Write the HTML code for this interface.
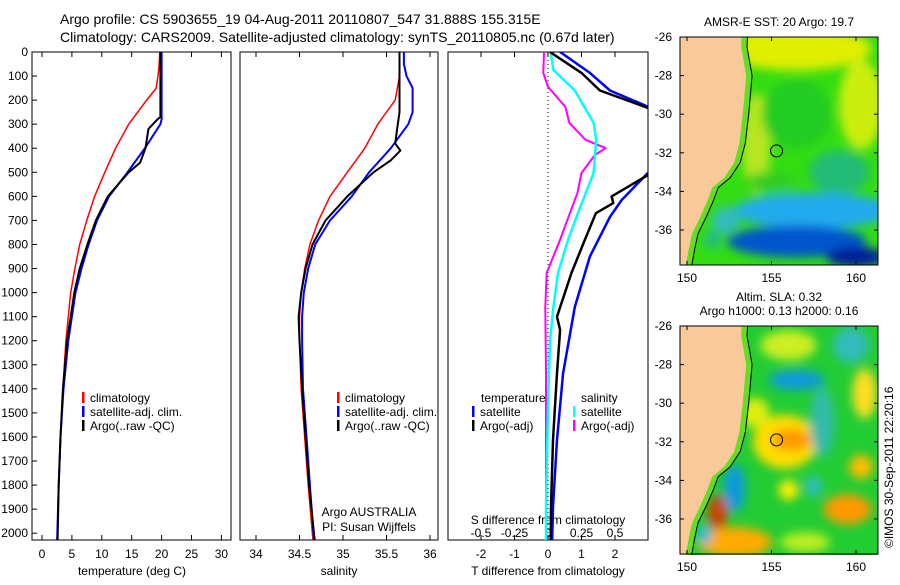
<!DOCTYPE html>
<html><head><meta charset="utf-8"><style>
body{margin:0;background:#fff;width:900px;height:580px;overflow:hidden;font-family:"Liberation Sans",sans-serif}
svg text{font-family:"Liberation Sans",sans-serif;font-size:12px;fill:#000}
</style></head><body>
<svg id="c" width="900" height="580" xmlns="http://www.w3.org/2000/svg">
<text x="60" y="24" style="font-size:14px">Argo profile: CS 5903655_19 04-Aug-2011 20110807_547 31.888S 155.315E</text>
<text x="60" y="42" style="font-size:14px">Climatology: CARS2009. Satellite-adjusted climatology: synTS_20110805.nc (0.67d later)</text>
<defs>
<filter id="bl" x="-20%" y="-20%" width="140%" height="140%"><feGaussianBlur stdDeviation="5"/></filter>
<clipPath id="cp1"><rect x="32" y="52" width="199" height="488"/></clipPath>
<clipPath id="cp2"><rect x="240" y="52" width="198" height="488"/></clipPath>
<clipPath id="cp3"><rect x="448" y="52" width="200" height="488"/></clipPath>
<clipPath id="cm1"><rect x="680" y="37" width="198" height="228"/></clipPath>
<clipPath id="cm2"><rect x="680" y="326" width="198" height="229"/></clipPath>
</defs>
<g id="maps"></g>
<g id="plots"></g>
<text transform="translate(893,548) rotate(-90)">©IMOS 30-Sep-2011 22:20:16</text>
</svg>
<script>
// ---- data ----
const depthT = [0,50,100,150,200,300,400,500,600,700,800,900,1000,1200,1400,1600,1800,2050];
const tempClim = [19.7,19.6,19.4,19.1,17.5,14.5,12.3,10.5,8.8,7.5,6.3,5.5,4.8,4.0,3.5,3.1,2.8,2.5];
const depthTS = [0,280,300,400,500,600,700,800,900,1000,1200,1400,1600,1800,2050];
const tempSat = [20,20,19.8,17.2,14.3,11.2,9.2,7.8,6.6,5.6,4.4,3.6,3.1,2.8,2.5];
const depthTA = [0,270,280,320,400,460,500,600,700,800,900,1000,1200,1400,1600,1800,2050];
const tempArgo = [19.8,19.8,19.3,17.8,17.3,16.4,14.5,11.0,9.0,7.6,6.3,5.4,4.2,3.5,3.1,2.8,2.6];
const depthS = [0,100,200,300,400,500,600,700,800,900,1000,1100,1200,1400,1600,1800,2050];
const salClim = [35.65,35.65,35.6,35.4,35.25,35.05,34.85,34.72,34.62,34.56,34.52,34.5,34.5,34.52,34.56,34.6,34.66];
const depthSS = [0,50,100,150,250,300,400,500,600,700,800,900,1000,1100,1200,1400,1600,1800,2050];
const salSat = [35.7,35.7,35.73,35.8,35.8,35.75,35.55,35.3,35.1,34.85,34.68,34.6,34.55,34.53,34.53,34.54,34.58,34.62,34.67];
const depthSA = [0,250,300,380,410,450,500,600,700,800,900,1000,1100,1200,1400,1600,1800,2050];
const salArgo = [35.65,35.65,35.63,35.6,35.66,35.55,35.35,35.05,34.8,34.65,34.57,34.52,34.49,34.5,34.53,34.57,34.61,34.68];
const depthDTS = [0,87,160,228,260,480,500,615,685,850,1060,1335,1612,1890,2050];
const dTsat = [0.36,1.25,1.85,3.0,3.6,3.6,3.0,2.2,1.85,1.25,0.8,0.45,0.27,0.15,0.12];
const depthDTA = [0,87,160,233,260,480,510,600,628,670,780,918,1100,1155,1335,1612,1890,2050];
const dTargo = [0.06,1.0,1.55,3.0,3.6,3.6,3.0,1.9,1.95,1.43,1.1,0.7,0.27,0.36,0.27,0.15,0.09,0.08];
const depthDS = [0,75,160,295,365,503,645,780,918,1060,1200,1475,1890,2050];
const dSsat = [0.02,0.04,0.2,0.34,0.36,0.34,0.24,0.15,0.075,0.04,0.015,0,-0.015,-0.015];
const depthDSA = [0,87,145,228,295,365,400,428,503,585,645,780,918,1060,1335,1890,2050];
const dSargo = [-0.03,-0.035,0,0.13,0.16,0.28,0.43,0.35,0.25,0.22,0.18,0.09,-0.01,-0.02,-0.015,-0.015,-0.015];
const depthTicks = [0,100,200,300,400,500,600,700,800,900,1000,1100,1200,1300,1400,1500,1600,1700,1800,1900,2000];
const tempTicks = [0,5,10,15,20,25,30];
const salTicks = [34,34.5,35,35.5,36];
const salTickLabels = ['34','34.5','35','35.5','36'];
const dTTicks = [-2,-1,0,1,2];
const dSTicks = [-0.5,-0.25,0,0.25,0.5];
const dSTickLabels = ['-0.5','-0.25','0','0.25','0.5'];
const latTicks = [-26,-28,-30,-32,-34,-36];
const lonTicks = [150,155,160];

// ---- scales ----
const Y = d => 52 + d*0.2406;
const XT = t => 42 + t*5.98;
const XS = s => 256 + (s-34)*87;
const XDT = v => 548 + v*33.5;
const XDS = v => 548 + v*134;
const NS='http://www.w3.org/2000/svg';
const P=document.getElementById('plots');
function el(tag,attrs,parent){const e=document.createElementNS(NS,tag);for(const k in attrs)e.setAttribute(k,attrs[k]);(parent||P).appendChild(e);return e;}
function txt(x,y,s,anchor,parent){const t=el('text',{x:x,y:y,'text-anchor':anchor||'start'},parent);t.textContent=s;return t;}
function line(xs,ds,xf,color,w,clip,name){
  const pts=xs.map((v,i)=>xf(v).toFixed(1)+','+Y(ds[i]).toFixed(1)).join(' ');
  const p=el('polyline',{points:pts,fill:'none',stroke:color,'stroke-width':w,'stroke-linejoin':'round','clip-path':'url(#'+clip+')'});
  
  
}
const panels=[[32,231,'temperature-panel'],[240,438,'salinity-panel'],[448,648,'difference-panel']];
panels.forEach(([x0,x1,n])=>{
  const r=el('rect',{x:x0,y:52,width:x1-x0,height:488,fill:'none',stroke:'#000','stroke-width':1});
  
  
});
depthTicks.forEach(d=>{
  el('line',{x1:32,x2:37,y1:Y(d),y2:Y(d),stroke:'#000'});
  const t=txt(28,Y(d)+4,String(d),'end');
  
  
});
function xticks(ticks,labels,xf,yl){
  ticks.forEach((v,i)=>{const x=xf(v);
    el('line',{x1:x,x2:x,y1:540,y2:535,stroke:'#000'});
    el('line',{x1:x,x2:x,y1:52,y2:57,stroke:'#000'});
    const t=txt(x,yl,labels[i],'middle');
    
    
  });
}
xticks(tempTicks,tempTicks.map(String),XT,558);
xticks(salTicks,salTickLabels,XS,558);
xticks(dTTicks,dTTicks.map(String),XDT,558);
dSTicks.forEach((v,i)=>{const t=txt(XDS(v),537,dSTickLabels[i],'middle');
  
  });
let t;
t=txt(132,575,'temperature (deg C)','middle');
t=txt(339,575,'salinity','middle');
t=txt(548,575,'T difference from climatology','middle');
t=txt(548,524,'S difference from climatology','middle');
t=txt(369,516,'Argo AUSTRALIA','middle');
t=txt(369,531,'PI: Susan Wijffels','middle');
el('line',{x1:548,x2:548,y1:52,y2:540,stroke:'#000','stroke-dasharray':'1,3'});
line(tempClim,depthT,XT,'#f00',1.5,'cp1','temp-climatology-line');
line(tempSat,depthTS,XT,'#00f',2,'cp1','temp-satellite-line');
line(tempArgo,depthTA,XT,'#000',2,'cp1','temp-argo-line');
line(salClim,depthS,XS,'#f00',1.5,'cp2','sal-climatology-line');
line(salSat,depthSS,XS,'#00f',2,'cp2','sal-satellite-line');
line(salArgo,depthSA,XS,'#000',2,'cp2','sal-argo-line');
line(dSargo,depthDSA,XDS,'#f0f',2,'cp3','sdiff-argo-line');
line(dSsat,depthDS,XDS,'#0ff',2.5,'cp3','sdiff-satellite-line');
line(dTsat,depthDTS,XDT,'#00f',2.5,'cp3','tdiff-satellite-line');
line(dTargo,depthDTA,XDT,'#000',2.5,'cp3','tdiff-argo-line');
function leg(x,y,color,label,name){
  el('rect',{x:x,y:y-10,width:2.5,height:11,fill:color});
  const tt=txt(x+8,y,label);
  
  
}
[[82],[337]].forEach(([x])=>{
  leg(x,402,'#f00','climatology','legend-climatology');
  leg(x,416,'#00f','satellite-adj. clim.','legend-satellite');
  leg(x,430,'#000','Argo(..raw -QC)','legend-argo');
});
t=txt(481,402,'temperature');
t=txt(581,402,'salinity');
leg(472,416,'#00f','satellite','legend-t-satellite');
leg(472,430,'#000','Argo(-adj)','legend-t-argo');
leg(573,416,'#0ff','satellite','legend-s-satellite');
leg(573,430,'#f0f','Argo(-adj)','legend-s-argo');

// ---- maps ----
const M=document.getElementById('maps');
const LX = lon => 687 + (lon-150)*16.9;
function map(y0,clip,name,bg,blobs,title){
  const g=el('g',{},M);
  
  
  const LY = lat => y0 + (-26-lat)*19.3;
  const gc=el('g',{'clip-path':'url(#'+clip+')'},g);
  el('rect',{x:680,y:y0-5,width:198,height:240,fill:bg},gc);
  const gb=el('g',{filter:'url(#bl)'},gc);
  blobs.forEach(b=>el('ellipse',{cx:LX(b[0]),cy:LY(b[1]),rx:b[2],ry:b[3],fill:b[4]},gb));
  const coast=[[153.3,-25],[153.2,-26.5],[153.5,-28],[153.3,-30],[153.1,-31.5],[152.8,-32.5],[152.2,-33.3],[151.5,-33.8],[151.2,-34.5],[150.8,-35.3],[150.3,-36.2],[150.1,-37],[149.9,-38]];
  const shelf=coast.map(c=>[c[0]+0.35,c[1]]);
  const ptsL=coast.map(c=>LX(c[0])+','+LY(c[1])).join(' ');
  const ptsS=shelf.map(c=>LX(c[0])+','+LY(c[1])).join(' ');
  el('polygon',{points:'670,'+(y0-10)+' '+ptsS+' 670,'+(y0+250),fill:'#66dd22'},gc);
  el('polygon',{points:'670,'+(y0-10)+' '+ptsL+' 670,'+(y0+250),fill:'#f9c99a'},gc);
  el('polyline',{points:ptsS,fill:'none',stroke:'#000','stroke-width':1},gc);
  const c=el('circle',{cx:LX(155.3),cy:LY(-31.9),r:6,fill:'none',stroke:'#000'},g);
  
  
  el('rect',{x:680,y:y0,width:198,height:228,fill:'none',stroke:'#000'},g);
  latTicks.forEach(l=>{el('line',{x1:680,x2:684,y1:LY(l),y2:LY(l),stroke:'#000'},g);el('line',{x1:878,x2:874,y1:LY(l),y2:LY(l),stroke:'#000'},g);
    const tt=txt(672,LY(l)+4,String(l),'end',g);});
  lonTicks.forEach(l=>{el('line',{x1:LX(l),x2:LX(l),y1:y0+228,y2:y0+224,stroke:'#000'},g);el('line',{x1:LX(l),x2:LX(l),y1:y0,y2:y0+4,stroke:'#000'},g);
    const tt=txt(LX(l),y0+245,String(l),'middle',g);});
  title.forEach((s,i)=>{const tt=txt(779,y0-25+i*14+(title.length==1?14:0),s,'middle',g);});
}
map(37,'cm1','sst-map','#33dd11',[
 [156.5,-26.6,75,22,'#e0ee00'],[160.3,-29.5,22,45,'#ccee11'],[154.1,-31.5,14,50,'#b8e620'],
 [156.5,-30,35,35,'#22cc22'],[159,-33,30,22,'#22bb77'],[155,-33.5,25,10,'#33cc22'],
 [157.5,-35,80,18,'#22aaee'],[156.5,-36.6,70,16,'#0055cc'],[160,-37.4,30,10,'#001a99'],[152.3,-35.5,14,14,'#33bbbb'],[151.5,-36.5,8,10,'#22bb88']
],['AMSR-E SST: 20 Argo: 19.7']);
map(326,'cm2','sla-map','#22cc33',[
 [156,-27,28,15,'#ccee22'],[156.5,-28.8,28,10,'#1199dd'],[159.7,-27,18,18,'#33bbbb'],
 [155.8,-32,32,27,'#ffdd00'],[156.2,-31.9,20,11,'#ff9900'],[154,-30.5,15,15,'#ddee11'],
 [158,-31,12,35,'#33bbaa'],[160.5,-29.5,12,25,'#ffdd22'],[160.3,-33.3,12,12,'#ffbb00'],
 [159.5,-35.5,24,15,'#ff9900'],[152.8,-34.4,11,24,'#1199dd'],[151.8,-35.7,10,18,'#cc4400'],
 [152.8,-37.2,38,15,'#ffaa00'],[151,-36.8,8,10,'#22bbcc'],[157,-37.2,25,10,'#bbee22'],[156,-34.5,10,10,'#ffee00'],[157.5,-34.3,8,10,'#33bbcc']
],['Altim. SLA: 0.32','Argo h1000: 0.13 h2000: 0.16']);
</script>
</body></html>
